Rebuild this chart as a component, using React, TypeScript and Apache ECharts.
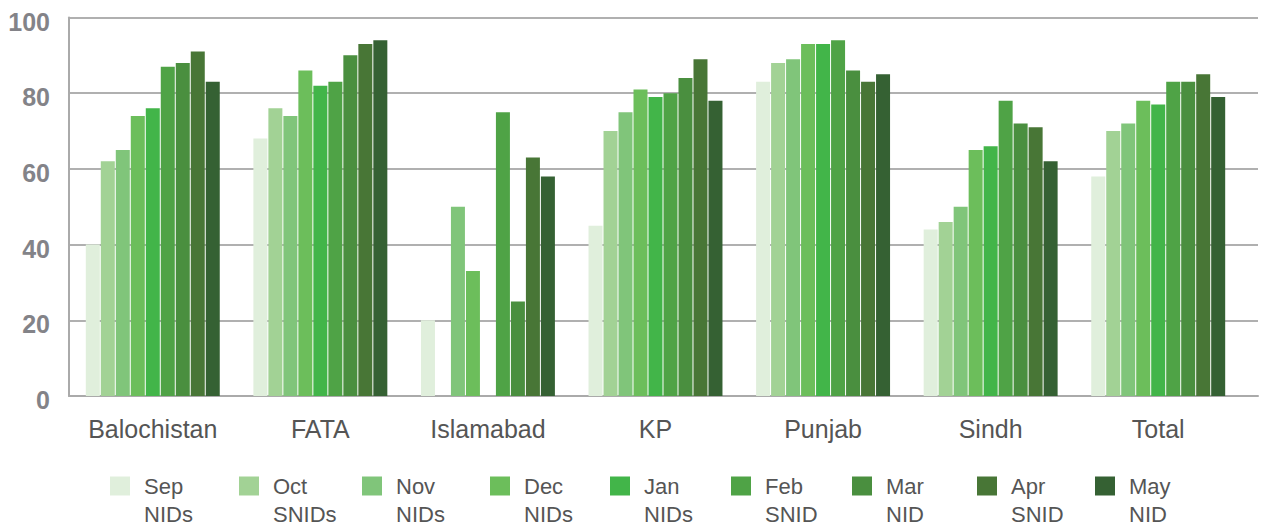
import React, { useEffect, useRef } from "react";
import * as echarts from "echarts";

const categories = ["Balochistan", "FATA", "Islamabad", "KP", "Punjab", "Sindh", "Total"];
const seriesNames = ["Sep\nNIDs", "Oct\nSNIDs", "Nov\nNIDs", "Dec\nNIDs", "Jan\nNIDs", "Feb\nSNID", "Mar\nNID", "Apr\nSNID", "May\nNID"];
const colors = ["#e0efdc", "#a2d295", "#80c57a", "#6cbe5b", "#42b549", "#4fa346", "#4a8f3f", "#487636", "#356133"];

const sep = [40, 68, 20, 45, 83, 44, 58];
const oct = [62, 76, null, 70, 88, 46, 70];
const nov = [65, 74, 50, 75, 89, 50, 72];
const dec = [74, 86, 33, 81, 93, 65, 78];
const jan = [76, 82, 0, 79, 93, 66, 77];
const feb = [87, 83, 75, 80, 94, 78, 83];
const mar = [88, 90, 25, 84, 86, 72, 83];
const apr = [91, 93, 63, 89, 83, 71, 85];
const may = [83, 94, 58, 78, 85, 62, 79];
const seriesData = [sep, oct, nov, dec, jan, feb, mar, apr, may];

const yTicks = { min: 0, max: 100, interval: 20 };

// legend label box widths (layout only)
const legendTextWidths = [80, 74, 79, 71, 72, 72, 76, 69, 74];

const FONT = "Liberation Sans, Arial, sans-serif";

export default function App() {
  const ref = useRef<HTMLDivElement>(null);
  useEffect(() => {
    if (!ref.current) return;
    const chart = echarts.init(ref.current, null, { renderer: "svg" });
    chart.setOption({
      animation: false,
      grid: [
        { left: 69, right: 7, top: 17.5, bottom: 133 },
        { left: 69, right: 23, top: 17.5, bottom: 133 },
      ],
      legend: {
        top: 444,
        left: 110,
        padding: 0,
        itemWidth: 20,
        itemHeight: 19,
        itemGap: 15,
        icon: "rect",
        data: seriesNames.map((name, i) => ({
          name,
          textStyle: { width: legendTextWidths[i] },
        })),
        formatter: (name: string) => " \n" + name,
        textStyle: {
          fontFamily: FONT,
          fontSize: 22,
          color: "#555555",
          lineHeight: 28,
          width: 74,
          padding: [0, 0, 0, 9],
        },
      },
      xAxis: [
        {
          gridIndex: 0,
          type: "value",
          min: 0,
          max: 1,
          axisLine: { show: true, lineStyle: { color: "#aaaaaa", width: 2 } },
          axisTick: { show: false },
          axisLabel: { show: false },
          splitLine: { show: false },
        },
        {
          gridIndex: 1,
          type: "category",
          data: categories,
          axisLine: { show: false },
          axisTick: { show: false },
          axisLabel: {
            interval: 0,
            fontFamily: FONT,
            fontSize: 25,
            color: "#555555",
            margin: 20,
          },
        },
      ],
      yAxis: [
        {
          gridIndex: 0,
          type: "value",
          min: yTicks.min,
          max: yTicks.max,
          interval: yTicks.interval,
          axisLine: { show: true, lineStyle: { color: "#aaaaaa", width: 2 } },
          axisTick: { show: false },
          splitLine: { lineStyle: { color: "#b0b0b0", width: 2 } },
          axisLabel: {
            fontFamily: FONT,
            fontWeight: "bold",
            fontSize: 25,
            color: "#838388",
            margin: 19,
            verticalAlign: "top",
            lineHeight: 8,
          },
        },
        {
          gridIndex: 1,
          type: "value",
          min: yTicks.min,
          max: yTicks.max,
          interval: yTicks.interval,
          show: false,
        },
      ],
      series: seriesNames.map((name, i) => ({
        name,
        type: "bar",
        xAxisIndex: 1,
        yAxisIndex: 1,
        data: seriesData[i],
        barWidth: 14,
        barGap: "7.1%",
        itemStyle: { color: colors[i] },
      })),
    });
    return () => chart.dispose();
  }, []);
  return <div ref={ref} style={{ width: 1265, height: 529, position: "absolute", left: 0, top: 0 }} />;
}
